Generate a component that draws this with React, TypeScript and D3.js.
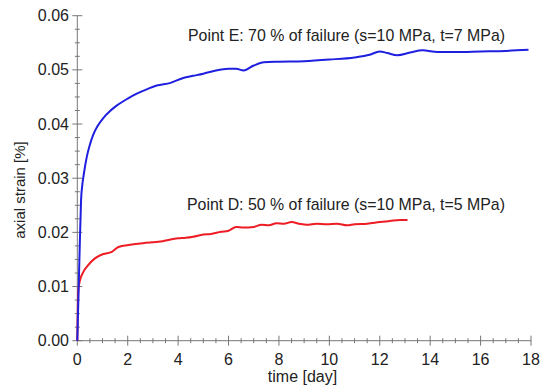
import React from 'react';
import * as d3 from 'd3';

// Point E (blue) - day, axial strain
const blueDays = [0, 0.05, 0.1, 0.15, 0.2, 0.25, 0.37, 0.5, 0.63, 0.8, 1.03, 1.3, 1.56, 2.0, 2.36, 2.8, 3.15, 3.7, 4.2, 4.6, 5.0, 5.5, 6.0, 6.3, 6.6, 7.0, 7.4, 8.0, 9.0, 10, 11, 11.6, 12.0, 12.3, 12.7, 13.2, 13.7, 14.3, 15, 16, 17, 17.9];
const blueStrain = [0, 0.009, 0.018, 0.026, 0.0288, 0.0305, 0.0338, 0.0362, 0.038, 0.0396, 0.0411, 0.0424, 0.0434, 0.0447, 0.0456, 0.0465, 0.0471, 0.0476, 0.0485, 0.0489, 0.0493, 0.0499, 0.0502, 0.0502, 0.0499, 0.0508, 0.0514, 0.0515, 0.0516, 0.0519, 0.0523, 0.0528, 0.0534, 0.0531, 0.0527, 0.0532, 0.0536, 0.0533, 0.0533, 0.0534, 0.0535, 0.0537];

// Point D (red)
const redDays = [0, 0.02, 0.04, 0.11, 0.24, 0.44, 0.7, 1.03, 1.37, 1.63, 2.1, 2.6, 3.3, 3.7, 4.0, 4.3, 4.6, 5.0, 5.3, 5.7, 6.0, 6.3, 6.6, 7.0, 7.3, 7.6, 7.9, 8.2, 8.5, 8.8, 9.1, 9.5, 9.9, 10.3, 10.7, 11.0, 11.5, 12.0, 12.4, 12.8, 13.1];
const redStrain = [0, 0.006, 0.0093, 0.0112, 0.0127, 0.014, 0.0152, 0.016, 0.0164, 0.0173, 0.0177, 0.018, 0.0183, 0.0187, 0.0189, 0.019, 0.0192, 0.0196, 0.0197, 0.0201, 0.0203, 0.021, 0.0209, 0.021, 0.0214, 0.0213, 0.0217, 0.0216, 0.0219, 0.0216, 0.0214, 0.0216, 0.0215, 0.0216, 0.0213, 0.0215, 0.0216, 0.0219, 0.0221, 0.0223, 0.0223];

const xTicks = [0, 2, 4, 6, 8, 10, 12, 14, 16, 18];
const yTicks = [0, 0.01, 0.02, 0.03, 0.04, 0.05, 0.06];
const labelE = 'Point E: 70 % of failure (s=10 MPa, t=7 MPa)';
const labelD = 'Point D: 50 % of failure (s=10 MPa, t=5 MPa)';

const W = 542;
const H = 386;
const font = 'Liberation Sans, Arial, sans-serif';

export default function App() {
  const x = d3.scaleLinear().domain([0, 18]).range([77.3, 531]);
  const y = d3.scaleLinear().domain([0, 0.06]).range([340.7, 15.7]);

  const line = d3
    .line<[number, number]>()
    .x((d) => x(d[0]))
    .y((d) => y(d[1]))
    .curve(d3.curveMonotoneX);

  const blue = blueDays.map((d, i) => [d, blueStrain[i]] as [number, number]);
  const red = redDays.map((d, i) => [d, redStrain[i]] as [number, number]);

  const xMinor = d3.range(0, 18.01, 0.5).filter((v) => v % 2 !== 0);
  const yMinor = d3.range(0, 0.0601, 0.0025).filter((v) => Math.abs(v * 100 - Math.round(v * 100)) > 1e-6);

  const axisColor = '#777';
  const textColor = '#222';

  return (
    <svg width={W} height={H} style={{ position: 'absolute', left: 0, top: 0, background: '#fff' }}>
      {/* axes */}
      <line x1={x(0)} x2={x(18)} y1={y(0)} y2={y(0)} stroke={axisColor} strokeWidth={1} />
      <line x1={x(0)} x2={x(0)} y1={y(0)} y2={y(0.06)} stroke={axisColor} strokeWidth={1} />
      {xTicks.map((t) => (
        <g key={'xt' + t}>
          <line x1={x(t)} x2={x(t)} y1={y(0) - 5} y2={y(0) + 5} stroke={axisColor} />
          <text x={x(t)} y={365} textAnchor="middle" fontFamily={font} fontSize={16} fill={textColor}>
            {t}
          </text>
        </g>
      ))}
      {xMinor.map((t) => (
        <line key={'xm' + t} x1={x(t)} x2={x(t)} y1={y(0) - 2.5} y2={y(0) + 2.5} stroke={axisColor} />
      ))}
      {yTicks.map((t) => (
        <g key={'yt' + t}>
          <line x1={x(0) - 5} x2={x(0) + 5} y1={y(t)} y2={y(t)} stroke={axisColor} />
          <text x={69} y={y(t) + 5.5} textAnchor="end" fontFamily={font} fontSize={16} fill={textColor}>
            {t.toFixed(2)}
          </text>
        </g>
      ))}
      {yMinor.map((t) => (
        <line key={'ym' + t} x1={x(0) - 2.5} x2={x(0) + 2.5} y1={y(t)} y2={y(t)} stroke={axisColor} />
      ))}
      <text x={302.5} y={382} textAnchor="middle" fontFamily={font} fontSize={16} fill={textColor}>
        time [day]
      </text>
      <text
        transform={`translate(25,190) rotate(-90)`}
        textAnchor="middle"
        fontFamily={font}
        fontSize={15}
        fill={textColor}
      >
        axial strain [%]
      </text>

      {/* curves */}
      <path d={line(red) || ''} fill="none" stroke="#ee1c24" strokeWidth={2} />
      <path d={line(blue) || ''} fill="none" stroke="#1f1fe0" strokeWidth={2} />

      <text x={188} y={41} fontFamily={font} fontSize={15.9} fill={textColor}>
        {labelE}
      </text>
      <text x={187} y={210} fontFamily={font} fontSize={15.9} fill={textColor}>
        {labelD}
      </text>
    </svg>
  );
}
